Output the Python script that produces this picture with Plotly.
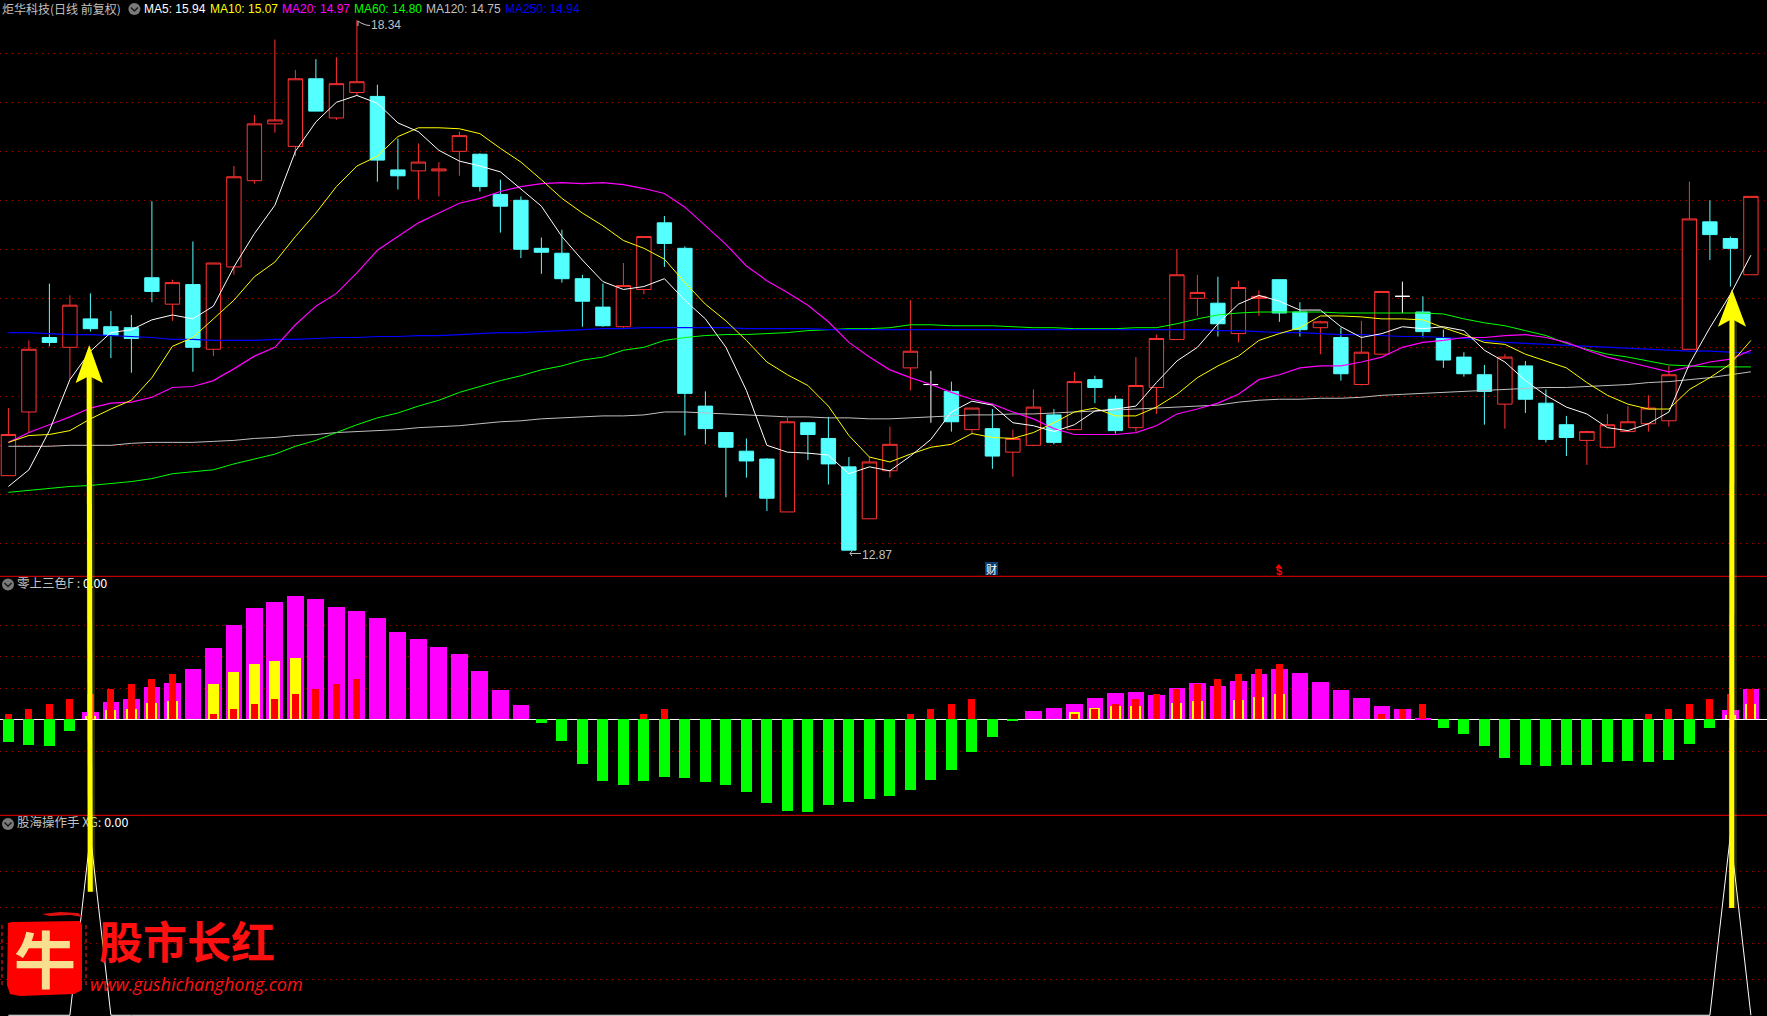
import plotly.graph_objects as go

W, H = 1767, 1016
LABELS = ["炬华科技(日线 前复权)", "零上三色F", "股海操作手", "股市长红", "www.gushichanghong.com"]

opens = [13.69,14.34,15.10,15.00,15.29,15.21,15.20,15.71,15.44,15.64,14.98,15.82,16.70,17.28,17.05,17.74,17.34,17.60,17.56,16.81,
16.80,16.80,17.00,16.97,16.56,16.50,16.01,15.96,15.70,15.41,15.21,15.59,16.27,16.01,14.40,14.13,13.94,13.86,13.32,14.23,
14.07,13.78,13.25,13.74,14.79,14.62,14.55,14.16,14.17,13.93,14.00,14.31,14.16,14.67,14.47,14.18,14.59,15.08,15.50,15.45,
15.14,15.50,15.69,15.36,15.20,15.10,14.62,14.93,15.52,15.36,15.09,14.90,14.72,14.42,14.81,14.43,14.21,14.05,13.98,14.14,
14.22,14.25,14.98,16.28,16.11,15.74]
highs = [14.38,15.07,15.65,15.53,15.55,15.37,15.33,16.49,15.69,16.08,15.86,16.85,17.37,18.14,17.83,17.94,17.96,18.34,17.68,17.13,
17.08,16.89,17.20,16.98,16.71,16.54,16.12,16.20,15.74,15.65,15.86,16.13,16.34,16.03,14.55,14.13,14.07,13.87,14.28,14.23,
14.29,13.88,13.88,14.19,15.48,14.76,14.65,14.38,14.37,14.16,14.57,14.37,14.75,14.71,14.51,14.90,15.13,16.00,15.74,15.72,
15.68,15.58,15.69,15.46,15.27,15.20,15.27,15.57,15.67,15.52,15.18,14.95,14.82,14.93,14.86,14.57,14.30,14.15,14.32,14.40,
14.51,14.81,16.69,16.50,16.13,16.54]
lows = [13.69,14.13,15.01,14.67,15.16,14.89,14.74,15.46,15.27,14.75,14.91,15.74,16.67,17.19,16.95,17.41,17.32,17.57,16.69,16.61,
16.51,16.54,16.75,16.59,16.17,15.91,15.75,15.66,15.21,15.21,15.20,15.54,15.82,14.10,14.01,13.47,13.67,13.33,13.32,13.85,
13.60,12.93,13.25,13.67,14.56,14.23,14.14,14.11,13.76,13.68,13.99,14.01,14.16,14.43,14.12,14.14,14.32,15.08,15.32,15.11,
15.05,15.32,15.26,15.11,14.93,14.66,14.61,14.93,15.35,15.10,14.79,14.70,14.21,14.17,14.33,14.03,13.89,13.80,13.97,14.14,
14.14,14.19,14.98,15.89,15.62,15.74]
closes = [14.11,14.98,15.05,15.43,15.19,15.12,15.09,15.57,15.66,15.00,15.86,16.74,17.28,17.32,17.74,17.41,17.69,17.71,16.91,16.75,
16.89,16.82,17.16,16.64,16.44,16.00,15.97,15.70,15.47,15.22,15.63,16.13,16.06,14.53,14.17,13.98,13.84,13.46,14.24,14.11,
13.81,12.93,13.83,14.01,14.96,14.62,14.24,14.38,13.89,14.07,14.39,14.03,14.65,14.59,14.15,14.61,15.09,15.74,15.56,15.24,
15.61,15.52,15.35,15.18,15.26,14.73,14.95,15.57,15.52,15.16,14.87,14.73,14.55,14.90,14.47,14.06,14.08,14.14,14.21,14.24,
14.38,14.72,16.31,16.15,16.01,16.54]

ma5 = [13.58,13.75,14.15,14.67,14.96,15.15,15.18,15.28,15.33,15.29,15.42,15.82,16.16,16.45,17.00,17.30,17.50,17.57,17.49,17.29,
17.20,17.01,16.90,16.85,16.79,16.61,16.44,16.13,15.89,15.67,15.59,15.62,15.70,15.48,15.29,15.00,14.56,14.00,13.93,13.92,
13.90,13.71,13.78,13.74,13.89,14.06,14.34,14.45,14.41,14.23,14.20,14.14,14.21,14.35,14.37,14.40,14.64,14.86,15.00,15.24,
15.44,15.53,15.47,15.38,15.38,15.21,15.10,15.14,15.21,15.19,15.21,15.17,14.97,14.85,14.66,14.51,14.39,14.32,14.18,14.15,
14.22,14.34,14.83,15.20,15.54,15.94]
ma10 = [14.03,14.10,14.11,14.15,14.27,14.37,14.46,14.69,15.01,15.10,15.29,15.48,15.72,15.87,16.13,16.37,16.64,16.85,16.95,17.15,
17.24,17.24,17.23,17.18,17.03,16.89,16.71,16.52,16.37,16.24,16.09,16.01,15.90,15.66,15.44,15.27,15.07,14.85,14.72,14.61,
14.40,14.10,13.88,13.83,13.91,13.98,14.01,14.12,14.08,14.07,14.13,14.23,14.34,14.38,14.30,14.30,14.39,14.52,14.69,14.81,
14.91,15.07,15.14,15.20,15.32,15.32,15.31,15.29,15.29,15.28,15.20,15.13,15.05,15.03,14.93,14.86,14.79,14.64,14.51,14.42,
14.37,14.37,14.57,14.69,14.83,15.07]
ma20 = [14.03,14.13,14.21,14.29,14.38,14.43,14.44,14.49,14.59,14.60,14.66,14.78,14.91,15.00,15.23,15.42,15.55,15.76,15.99,16.13,
16.27,16.37,16.47,16.52,16.59,16.64,16.67,16.68,16.67,16.68,16.66,16.62,16.57,16.43,16.24,16.05,15.83,15.68,15.56,15.43,
15.26,15.05,14.90,14.77,14.69,14.62,14.54,14.47,14.42,14.34,14.27,14.17,14.11,14.11,14.11,14.13,14.20,14.32,14.37,14.43,
14.52,14.67,14.72,14.79,14.81,14.81,14.85,14.90,15.00,15.05,15.07,15.10,15.10,15.12,15.13,15.10,15.05,14.97,14.90,14.85,
14.80,14.75,14.80,14.85,14.88,14.97]
ma60 = [13.52,13.54,13.56,13.58,13.59,13.61,13.63,13.66,13.71,13.73,13.75,13.81,13.86,13.91,13.99,14.05,14.13,14.21,14.28,14.33,
14.40,14.46,14.54,14.60,14.66,14.71,14.77,14.81,14.87,14.90,14.97,15.00,15.07,15.10,15.12,15.13,15.13,15.14,15.15,15.17,
15.18,15.19,15.19,15.20,15.23,15.23,15.22,15.22,15.22,15.21,15.20,15.20,15.19,15.19,15.19,15.20,15.20,15.24,15.29,15.33,
15.35,15.36,15.36,15.36,15.36,15.35,15.35,15.35,15.35,15.35,15.34,15.29,15.25,15.22,15.17,15.12,15.04,14.98,14.93,14.90,
14.86,14.82,14.81,14.80,14.80,14.80]
ma120 = [13.99,13.99,13.99,14.00,14.00,14.00,14.02,14.03,14.03,14.03,14.04,14.05,14.07,14.08,14.10,14.11,14.13,14.14,14.15,14.16,
14.18,14.19,14.20,14.22,14.24,14.25,14.27,14.28,14.29,14.30,14.30,14.31,14.34,14.34,14.33,14.32,14.31,14.30,14.29,14.29,
14.28,14.28,14.27,14.27,14.28,14.29,14.30,14.31,14.31,14.32,14.32,14.33,14.34,14.35,14.36,14.37,14.38,14.39,14.40,14.41,
14.44,14.46,14.47,14.47,14.48,14.48,14.49,14.51,14.52,14.53,14.54,14.55,14.56,14.57,14.58,14.59,14.59,14.60,14.61,14.62,
14.64,14.65,14.67,14.69,14.72,14.75]
ma250 = [15.15,15.15,15.14,15.13,15.13,15.12,15.11,15.10,15.08,15.08,15.07,15.07,15.07,15.08,15.08,15.09,15.10,15.10,15.11,15.11,
15.12,15.12,15.13,15.14,15.15,15.15,15.16,15.17,15.18,15.19,15.19,15.20,15.20,15.20,15.20,15.20,15.19,15.19,15.19,15.19,
15.18,15.18,15.18,15.18,15.18,15.18,15.18,15.18,15.18,15.18,15.18,15.18,15.18,15.18,15.18,15.18,15.18,15.18,15.18,15.17,
15.17,15.16,15.15,15.15,15.14,15.13,15.13,15.12,15.11,15.11,15.10,15.09,15.07,15.05,15.04,15.03,15.02,15.01,15.00,14.99,
14.98,14.97,14.96,14.96,14.95,14.94]

f_magenta = [0,0,0,0,0.07,0.17,0.20,0.32,0.36,0.50,0.71,0.94,1.11,1.17,1.23,1.20,1.12,1.08,1.01,0.87,
0.80,0.72,0.65,0.48,0.29,0.14,0,0,0,0,0,0,0,0,0,0,0,0,0,0,
0,0,0,0,0,0,0,0,0,0,0.08,0.11,0.15,0.21,0.26,0.27,0.24,0.31,0.36,0.33,
0.38,0.45,0.50,0.46,0.37,0.29,0.21,0.13,0.10,0.01,0,0,0,0,0,0,0,0,0,0,
0,0,0,0,0.09,0.30]
f_yellow = [0,0,0,0,0.03,0.09,0.10,0.16,0.18,0,0.35,0.47,0.55,0.58,0.61,0,0,0,0,0,
0,0,0,0,0,0,0,0,0,0,0,0,0,0,0,0,0,0,0,0,
0,0,0,0,0,0,0,0,0,0,0,0,0.07,0.11,0.13,0.13,0,0.16,0.18,0,
0.19,0.22,0.25,0,0,0,0,0,0,0,0,0,0,0,0,0,0,0,0,0,
0,0,0,0,0.04,0.15]
f_green = [-0.23,-0.26,-0.27,-0.12,0,0,0,0,0,0,0,0,0,0,0,0,0,0,0,0,
0,0,0,0,0,0,-0.04,-0.22,-0.45,-0.62,-0.66,-0.62,-0.58,-0.59,-0.63,-0.66,-0.73,-0.84,-0.92,-0.93,
-0.86,-0.83,-0.80,-0.77,-0.71,-0.61,-0.51,-0.33,-0.18,-0.02,0,0,0,0,0,0,0,0,0,0,
0,0,0,0,0,0,0,0,0,0,-0.09,-0.15,-0.27,-0.39,-0.46,-0.47,-0.46,-0.46,-0.43,-0.42,
-0.43,-0.41,-0.25,-0.09,0,0]
f_red = [0.05,0.10,0.15,0.20,0.25,0.30,0.35,0.40,0.45,0,0.05,0.10,0.15,0.20,0.25,0.30,0.35,0.40,0,0,
0,0,0,0,0,0,0,0,0,0,0,0.05,0.10,0,0,0,0,0,0,0,
0,0,0,0,0.05,0.10,0.15,0.20,0,0,0,0,0.05,0.10,0.15,0.20,0.25,0.30,0.35,0.40,
0.45,0.50,0.55,0,0,0,0,0.05,0.10,0.15,0,0,0,0,0,0,0,0,0,0,
0.05,0.10,0.15,0.20,0.25,0.30]
xg = [0,0,0,0,1] + [0]*79 + [1,0]

n = len(closes)
idx = list(range(n))
x_range = [-8.4/20.5, (W-8.4)/20.5]

fig = go.Figure()

plain = [i for i in idx if opens[i] != closes[i]]
doji = [i for i in idx if opens[i] == closes[i]]
fig.add_trace(go.Candlestick(
    x=plain, open=[opens[i] for i in plain], high=[highs[i] for i in plain],
    low=[lows[i] for i in plain], close=[closes[i] for i in plain],
    increasing=dict(line=dict(color="#FF3232", width=1), fillcolor="#000000"),
    decreasing=dict(line=dict(color="#54FFFF", width=1), fillcolor="#54FFFF"),
    xaxis="x", yaxis="y", showlegend=False, hoverinfo="skip"))
fig.add_trace(go.Candlestick(
    x=doji, open=[opens[i] for i in doji], high=[highs[i] for i in doji],
    low=[lows[i] for i in doji], close=[closes[i] for i in doji],
    increasing=dict(line=dict(color="#FFFFFF", width=1), fillcolor="#FFFFFF"),
    decreasing=dict(line=dict(color="#FFFFFF", width=1), fillcolor="#FFFFFF"),
    xaxis="x", yaxis="y", showlegend=False, hoverinfo="skip"))

for vals, col, lw in [(ma120, "#C0C0C0", 1), (ma60, "#00FF00", 1), (ma250, "#0000FF", 1.2),
                      (ma20, "#FF00FF", 1.2), (ma10, "#FFFF00", 1), (ma5, "#FFFFFF", 1)]:
    fig.add_trace(go.Scatter(x=idx, y=vals, mode="lines", line=dict(color=col, width=lw),
                             xaxis="x", yaxis="y", showlegend=False, hoverinfo="skip"))

for vals, col, wd in [(f_magenta, "#FF00FF", 0.82), (f_yellow, "#FFFF00", 0.54),
                      (f_green, "#00FF00", 0.54), (f_red, "#FF0000", 0.34)]:
    fig.add_trace(go.Bar(x=idx, y=vals, width=wd, marker=dict(color=col, line=dict(width=0)),
                         xaxis="x2", yaxis="y2", showlegend=False, hoverinfo="skip"))

fig.add_trace(go.Scatter(x=idx, y=xg, mode="lines", line=dict(color="#FFFFFF", width=1),
                         xaxis="x3", yaxis="y3", showlegend=False, hoverinfo="skip", cliponaxis=False))

# panel captions live in the plot layer so the yellow arrow passes over them
GREY = "#C0C0C0"
title_font = dict(family="Noto Sans CJK SC, Liberation Sans", size=12.5, color=GREY)
fig.add_trace(go.Scatter(x=[(17-8.4)/20.5], y=[(719.3-584.5)/100], mode="text", xaxis="x2", yaxis="y2",
                         text=['零上三色F : <span style="color:#FFFFFF">0.00</span>'], textposition="middle right",
                         textfont=title_font, showlegend=False, hoverinfo="skip", cliponaxis=False))
fig.add_trace(go.Scatter(x=[(17-8.4)/20.5], y=[(1015.3-824)/180], mode="text", xaxis="x3", yaxis="y3",
                         text=['股海操作手 XG: <span style="color:#FFFFFF">0.00</span>'], textposition="middle right",
                         textfont=title_font, showlegend=False, hoverinfo="skip", cliponaxis=False))

def X(p): return p / W
def Y(p): return 1 - p / H

shapes = []
def paper_path(pts):
    return "M " + " L ".join(f"{X(a):.5f},{Y(b):.5f}" for a, b in pts) + " Z"
def open_path(pts, color, width=1):
    shapes.append(dict(type="path", xref="paper", yref="paper",
                       path="M " + " L ".join(f"{X(a):.5f},{Y(b):.5f}" for a, b in pts),
                       line=dict(color=color, width=width), layer="above"))

for py in (576.3, 815.3):
    shapes.append(dict(type="line", xref="paper", yref="paper", x0=0, x1=1, y0=Y(py), y1=Y(py),
                       line=dict(color="#C00000", width=1.2), layer="above"))

def bullet(cx, cy):
    shapes.append(dict(type="circle", xref="paper", yref="paper", x0=X(cx-6), x1=X(cx+6), y0=Y(cy+6), y1=Y(cy-6),
                       fillcolor="#7A7A7A", line=dict(width=0), layer="above"))
    open_path([(cx-3.5, cy-1.5), (cx, cy+2), (cx+3.5, cy-1.5)], "#1A1A1A", 1.5)
bullet(134.4, 9)
bullet(8, 584.5)
bullet(8, 824)

# price flags
open_path([(358, 26), (358, 21), (361, 23), (366, 25), (370, 25.5)], GREY)
open_path([(852, 551), (850, 553.5), (852, 556)], GREY)
open_path([(850, 553.5), (861, 553.5)], GREY)

# 财 badge and the red mark with its little up arrow
shapes.append(dict(type="rect", xref="paper", yref="paper", x0=X(985), x1=X(998), y0=Y(575), y1=Y(562),
                   fillcolor="#0F3C70", line=dict(width=0), layer="above"))
shapes.append(dict(type="path", xref="paper", yref="paper", layer="above",
                   path=paper_path([(1278.7, 564), (1282, 568), (1275.4, 568)]),
                   fillcolor="#FF0000", line=dict(width=0)))

# logo
shapes.append(dict(type="path", xref="paper", yref="paper", layer="above",
                   path=paper_path([(8,923),(12,922),(80,921),(82,925),(82,990),(74,994),(20,996),(10,994),(7,985)]),
                   fillcolor="#FF0000", line=dict(width=0)))
shapes.append(dict(type="path", xref="paper", yref="paper", layer="above",
                   path=paper_path([(42,914),(60,912),(78,913),(83,917),(70,915),(50,916)]),
                   fillcolor="#E01010", line=dict(width=0)))
for xp in (2, 86):
    shapes.append(dict(type="line", xref="paper", yref="paper", x0=X(xp), x1=X(xp), y0=Y(925), y1=Y(985),
                       line=dict(color="#B01010", width=1.5, dash="4px,3px"), layer="above"))

# yellow arrows
for top, base, notch, xtop, xbot, yend, half in [(345, 383, 376, 89.2, 90.3, 891.7, 13.6),
                                                 (289.3, 326.7, 319, 1732, 1731.7, 908, 14)]:
    shapes.append(dict(type="line", xref="paper", yref="paper", x0=X(xtop+1), x1=X(xbot+1), y0=Y(notch), y1=Y(yend),
                       line=dict(color="rgba(255,255,0,0.16)", width=8), layer="above"))
    shapes.append(dict(type="line", xref="paper", yref="paper", x0=X(xtop), x1=X(xbot), y0=Y(notch-2), y1=Y(yend),
                       line=dict(color="#FFFF00", width=5), layer="above"))
    shapes.append(dict(type="path", xref="paper", yref="paper", layer="above",
                       path=paper_path([(xtop, top), (xtop+half, base), (xtop, notch), (xtop-half, base)]),
                       fillcolor="#FFFF00", line=dict(width=0)))

anns = []
def label(px, py, text, color, size=12, family="Liberation Sans, Noto Sans CJK SC", anchor="left", **kw):
    anns.append(dict(xref="paper", yref="paper", x=X(px), y=Y(py), text=text, showarrow=False,
                     xanchor=anchor, yanchor="middle", font=dict(family=family, size=size, color=color), **kw))

label(0, 8.5, LABELS[0], GREY, family="Noto Sans CJK SC")
legend_x = [142, 207.6, 279.5, 352, 424, 503]
legend_t = ["MA5: 15.94", "MA10: 15.07", "MA20: 14.97", "MA60: 14.80", "MA120: 14.75", "MA250: 14.94"]
legend_c = ["#FFFFFF", "#FFFF00", "#FF00FF", "#00FF00", GREY, "#0000FF"]
for a, b, c in zip(legend_x, legend_t, legend_c):
    label(a, 9, b, c)
label(369, 25.5, "18.34", GREY)
label(860, 555, "12.87", GREY)
label(991.5, 568.5, "财", "#FFFFFF", size=11, family="Noto Sans CJK SC", anchor="center")
label(1278.7, 571, "<b>$</b>", "#FF0000", size=11, anchor="center")
label(44.5, 957, "<b>牛</b>", "#F8DE8E", size=62, family="Noto Sans CJK SC", anchor="center")
label(97, 940, "<b>" + LABELS[3] + "</b>", "#FF1010", size=44, family="Noto Sans CJK SC")
label(88, 984, "<i>" + LABELS[4] + "</i>", "#FF1010", size=18, family="Open Sans")

hidden = dict(showticklabels=False, ticks="", zeroline=False, showline=False)
griddot = dict(showgrid=True, gridcolor="#A80000", griddash="1px,5px", gridwidth=1)
def xax(anchor):
    return dict(range=x_range, domain=[0, 1], anchor=anchor, showgrid=False, rangeslider=dict(visible=False), **hidden)

fig.update_layout(
    width=W, height=H, margin=dict(l=0, r=0, t=0, b=0), autosize=False,
    paper_bgcolor="#000000", plot_bgcolor="#000000", barmode="overlay", bargap=0,
    boxmode="overlay", boxgap=0.3, boxgroupgap=0,
    xaxis=xax("y"), xaxis2=xax("y2"), xaxis3=xax("y3"),
    yaxis=dict(domain=[Y(576), 1], range=[18-(576-53.3)/98, 18+53.3/98], anchor="x",
               tickmode="array", tickvals=[18,17.5,17,16.5,16,15.5,15,14.5,14,13.5,13], **griddot, **hidden),
    yaxis2=dict(domain=[Y(815), Y(577)], range=[-0.957, 1.423], anchor="x2",
                tickmode="array", tickvals=[0.94,0.63,0.31,-0.32], **griddot,
                showticklabels=False, ticks="", showline=False,
                zeroline=True, zerolinecolor="#FFFFFF", zerolinewidth=1),
    yaxis3=dict(domain=[0, Y(816)], range=[-0.004, 1.107], anchor="x3",
                tickmode="array", tickvals=[0.2,0.4,0.6,0.8], **griddot, **hidden),
    shapes=shapes, annotations=anns, showlegend=False,
)
fig.write_html("out.html", config=dict(displayModeBar=False),
               post_script="document.body.style.margin='0';document.body.style.background='#000';document.body.style.overflow='hidden';")
